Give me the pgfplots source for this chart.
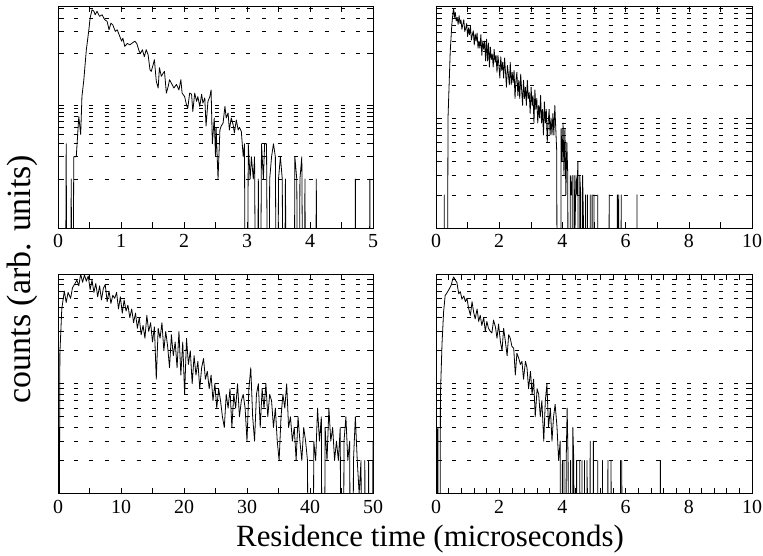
\documentclass[border=0pt]{standalone}
\usepackage{fontspec}
\setmainfont{Liberation Serif}
\usepackage{pgfplots}
\pgfplotsset{compat=1.18}
\tikzset{dl/.style={black, mark=none, line width=0.8bp, line join=round}}
\pgfplotsset{
  mypanel/.style={
    scale only axis, anchor=north west,
    axis line style={line width=0.9bp},
    tick style={line width=0.6bp, black},
    tick align=inside, major tick length=6bp, minor tick length=6bp,
    xtick pos=both, ytick pos=both,
    yticklabels={}, yminorticks=false,
    ymajorgrids, major grid style={dash pattern=on 4bp off 11.7bp, line width=0.6bp, black},
    xticklabel style={font=\fontsize{20}{23}\selectfont, yshift=-3bp},
    /pgf/number format/assume math mode=true,
  }
}
\begin{document}
\begin{tikzpicture}
\useasboundingbox (0,0) rectangle (763bp,-556bp);
% ---------------- panel 1 ----------------
\begin{axis}[ymode=log, mypanel, at={(58bp,-6bp)}, width=315bp, height=222bp,
  xmin=0, xmax=5, ymin=0.218, ymax=218,
  xtick={0,1,2,3,4,5}, minor x tick num=1,
  ytick={1,2,3,4,5,6,7,8,9,10,50,100,150,200}]
\addplot[dl] coordinates {
(0.00,0.0001)(0.11,0.0001)(0.13,3)(0.15,0.0001)(0.19,0.0001)(0.21,1)(0.23,0.0001)
(0.25,2)(0.29,2)(0.33,7)(0.36,4)(0.38,13)(0.41,22)(0.45,56)(0.49,104)(0.51,150)
(0.54,194)(0.57,185)(0.59,166)(0.62,185)(0.66,158)(0.70,166)(0.74,143)(0.78,135)
(0.81,104)(0.84,128)(0.87,121)(0.91,99)(0.94,104)(0.98,85)(1.01,73)(1.03,80)
(1.06,62)(1.10,68)(1.14,65)(1.17,68)(1.22,73)(1.25,68)(1.29,53)(1.31,50)(1.34,56)
(1.37,45)(1.40,56)(1.43,48)(1.46,30)(1.48,28.5)(1.51,35)(1.53,41)(1.56,21)(1.59,17)
(1.61,32)(1.64,24.5)(1.67,27)(1.69,28.5)(1.72,14.5)(1.75,18)(1.77,22)(1.81,19)
(1.84,17)(1.88,19)(1.92,16)(1.95,22)(1.97,14.5)(2.01,13)(2.04,10)(2.06,9.1)
(2.09,14.5)(2.12,14)(2.14,8.2)(2.17,14.5)(2.20,11.2)(2.22,13)(2.25,9.6)(2.28,14)
(2.30,10.6)(2.33,12.5)(2.35,5.2)(2.38,11.2)(2.41,13)(2.43,16)(2.45,3)(2.48,6.7)
(2.50,2)(2.51,5)(2.54,1)(2.57,4.6)(2.59,5.2)(2.62,5.7)(2.65,9.6)(2.67,6.7)(2.70,7.8)
(2.72,4.6)(2.75,6.7)(2.78,5.4)(2.80,4.2)(2.83,6.3)(2.86,4.6)(2.88,5)(2.91,4.4)
(2.94,2)(2.96,3)(2.98,0.0001)(3.00,0.0001)(3.02,3)(3.05,1)(3.07,2)(3.10,1)(3.12,2)
(3.15,0.0001)(3.18,1)(3.20,0.0001)(3.23,3)(3.26,1)(3.28,3)(3.31,3)(3.34,0.0001)
(3.36,1)(3.39,2)(3.42,3)(3.45,2)(3.48,0.0001)(3.50,1)(3.53,2)(3.56,1)(3.58,0.0001)
(3.61,1)(3.64,0.0001)(3.74,0.0001)(3.76,2)(3.79,1)(3.82,0.0001)(3.84,1)(3.87,2)
(3.90,0.0001)(3.92,1)(3.94,0.0001)(4.08,0.0001)(4.10,1)(4.12,0.0001)(4.70,0.0001)
(4.72,1)(4.74,0.0001)(4.93,0.0001)(4.95,1)(4.97,0.0001)(5.00,0.0001)
};
\end{axis}
% ---------------- panel 2 ----------------
\begin{axis}[ymode=log, mypanel, at={(436bp,-6bp)}, width=316bp, height=222bp,
  xmin=0, xmax=10, ymin=1, ymax=104,
  xtick={0,2,4,6,8,10}, minor x tick num=1,
  ytick={2,3,4,5,6,7,8,9,10,20,30,40,50,60,70,80,90,100}]
\addplot[dl] coordinates {
(0.00,0.0001)(0.24,0.0001)(0.26,2)(0.28,0.0001)(0.33,0.0001)(0.38,10)(0.45,40)
(0.50,70)(0.54,92)(0.56,98)(0.58,82)(0.61,91)(0.64,76)(0.67,82)(0.70,71)(0.73,85)
(0.76,72)(0.79,78)(0.82,64)(0.85,71)(0.88,78)(0.91,61)(0.94,65)(0.97,72)(1.00,55)
(1.03,66)(1.06,57)(1.09,68)(1.12,51)(1.15,57)(1.18,62)(1.21,46)(1.24,58)(1.27,50)
(1.30,59)(1.33,43)(1.36,50)(1.39,43)(1.42,57)(1.45,37)(1.48,50)(1.51,42)(1.54,50)
(1.57,33)(1.60,52)(1.63,33)(1.66,48)(1.69,29)(1.72,44)(1.75,34)(1.78,38)(1.81,29)
(1.84,42)(1.87,32)(1.90,37)(1.93,26)(1.96,37)(1.99,30)(2.02,23)(2.05,36)(2.08,27)
(2.11,32)(2.14,23)(2.17,35)(2.20,26)(2.23,19)(2.26,30)(2.29,25)(2.32,20)(2.35,32)
(2.38,20)(2.41,26)(2.44,21)(2.47,27)(2.50,15)(2.53,22)(2.56,26)(2.59,16)(2.62,22)
(2.65,15)(2.68,25)(2.71,18)(2.74,13)(2.77,22)(2.80,15)(2.83,19)(2.86,13)(2.89,22)
(2.92,15)(2.95,17)(2.98,11)(3.01,19)(3.04,13)(3.07,16)(3.10,9)(3.13,18)(3.16,12)
(3.19,15)(3.22,9)(3.25,13)(3.28,10)(3.31,16)(3.34,9)(3.37,12)(3.40,7)(3.43,14)
(3.46,9)(3.49,12)(3.52,6)(3.55,9)(3.58,12)(3.61,7)(3.64,10)(3.67,7)(3.70,11)
(3.73,7)(3.76,13)(3.79,8)(3.82,5)(3.86,0.0001)(3.92,0.0001)(3.96,8)(3.99,4)(4.02,9)
(4.05,3)(4.08,8)(4.11,2)(4.14,6)(4.17,3)(4.20,0.0001)(4.22,0.0001)(4.25,3)(4.28,2)
(4.31,3)(4.34,0.0001)(4.37,3)(4.40,1)(4.43,3)(4.46,2)(4.49,4)(4.52,0.0001)(4.55,3)
(4.58,2)(4.61,0.0001)(4.64,3)(4.67,1)(4.70,0.0001)(4.73,2)(4.76,0.0001)(4.79,2)
(4.82,0.0001)(4.85,0.0001)(4.88,2)(4.91,0.0001)(4.94,2)(4.97,0.0001)(5.00,2)
(5.03,0.0001)(5.10,0.0001)(5.12,2)(5.14,0.0001)(5.46,0.0001)(5.48,2)(5.50,0.0001)
(5.72,0.0001)(5.74,2)(5.76,0.0001)(5.78,2)(5.80,0.0001)(5.84,0.0001)(5.86,2)
(5.88,0.0001)(6.34,0.0001)(6.36,2)(6.38,0.0001)(10.00,0.0001)
};
\end{axis}
% ---------------- panel 3 ----------------
\begin{axis}[ymode=log, mypanel, at={(58bp,-274bp)}, width=315bp, height=219.5bp,
  xmin=0, xmax=50, ymin=1, ymax=100,
  xtick={0,10,20,30,40,50}, minor x tick num=1,
  ytick={2,3,4,5,6,7,8,9,10,20,30,40,50,60,70,80,90,100}]
\addplot[dl] coordinates {
(0.0,0.0001)(0.3,19)(0.6,48)(1.0,70)(1.3,55)(1.6,68)(2.0,60)(2.3,75)(2.6,80)(3.0,88)
(3.3,78)(3.6,100)(3.9,84)(4.2,98)(4.5,86)(4.8,96)(5.1,72)(5.4,88)(5.7,68)(6.0,82)
(6.3,62)(6.6,78)(6.9,58)(7.2,74)(7.5,80)(7.8,56)(8.1,70)(8.4,54)(8.7,64)(9.0,60)
(9.3,68)(9.6,48)(9.9,62)(10.2,44)(10.5,58)(10.8,46)(11.1,52)(11.4,40)(11.7,48)
(12.0,36)(12.3,44)(12.6,32)(12.9,40)(13.2,28)(13.5,34)(13.8,26)(14.1,42)(14.4,30)
(14.7,36)(15.0,24)(15.3,33)(15.6,11)(15.9,32)(16.2,26)(16.5,36)(16.8,20)(17.1,30)
(17.4,22)(17.7,14)(18.0,28)(18.3,18)(18.6,24)(18.9,14)(19.2,30)(19.5,12)(19.8,24)
(20.1,8)(20.4,26)(20.7,15)(21.0,20)(21.3,10)(21.6,18)(21.9,12)(22.2,16)(22.5,9)
(22.8,14)(23.1,17)(23.4,11)(23.7,13)(24.0,9)(24.3,12)(24.6,7)(24.9,10)(25.2,6)
(25.5,9)(25.8,7)(26.1,5)(26.4,4)(26.7,8)(27.0,6)(27.3,9)(27.6,4)(27.9,8)(28.2,6)
(28.5,10)(28.8,5)(29.1,7)(29.4,8)(29.7,6)(30.0,3)(30.3,9)(30.6,14)(30.9,5)(31.2,3)
(31.5,8)(31.8,10)(32.1,4)(32.4,9)(32.7,6)(33.0,10)(33.3,5)(33.6,8)(33.9,7)(34.2,4)
(34.5,6)(34.8,3)(35.1,2)(35.4,5)(35.7,8)(36.0,6)(36.3,10)(36.6,4)(36.9,5)(37.2,3)
(37.5,4)(37.8,2)(38.1,5)(38.4,3)(38.7,2)(39.0,4)(39.3,3)(39.6,2)(40.0,0.0001)
(40.3,0.0001)(40.6,3)(40.9,2)(41.2,6)(41.5,3)(41.8,5)(42.1,0.0001)(42.4,4)(42.7,2)
(43.0,6)(43.3,3)(43.6,4)(43.9,2)(44.2,3)(44.5,2)(44.8,4)(45.1,0.0001)(45.4,3)(45.7,5)
(46.0,2)(46.3,3)(46.6,0.0001)(46.9,2)(47.2,5)(47.5,2)(47.8,1)(48.1,2)(48.4,0.0001)
(48.7,2)(49.0,0.0001)(49.3,2)(49.6,0.0001)(50.0,3)
};
\end{axis}
% ---------------- panel 4 ----------------
\begin{axis}[ymode=log, mypanel, at={(436bp,-274bp)}, width=316bp, height=219.5bp,
  xmin=0, xmax=10, ymin=1, ymax=100,
  xtick={0,2,4,6,8,10}, minor x tick num=4,
  ytick={2,3,4,5,6,7,8,9,10,20,30,40,50,60,70,80,90,100}]
\addplot[dl] coordinates {
(0.00,0.0001)(0.02,4)(0.04,0.0001)(0.06,4)(0.08,0.0001)(0.10,0.0001)(0.14,8)(0.19,23)
(0.24,45)(0.29,64)(0.33,66)(0.38,70)(0.43,74)(0.48,79)(0.53,90)(0.56,94)(0.61,88)
(0.66,84)(0.69,74)(0.72,66)(0.77,69)(0.82,59)(0.88,63)(0.93,56)(0.98,60)(1.03,49)
(1.09,42)(1.14,56)(1.19,45)(1.24,39)(1.30,48)(1.35,37)(1.40,42)(1.45,34)(1.51,40)
(1.56,30)(1.61,37)(1.66,32)(1.72,30)(1.77,29)(1.82,38)(1.88,33)(1.93,26)(1.98,35)
(2.04,24)(2.09,20)(2.14,32)(2.19,25)(2.25,18)(2.30,28)(2.35,26)(2.40,22)(2.46,21)
(2.51,12)(2.56,19)(2.62,17)(2.67,15)(2.72,16)(2.77,11)(2.83,16)(2.88,14)(2.93,9)
(2.99,13)(3.04,8)(3.09,11)(3.14,5)(3.20,9)(3.25,8)(3.30,5)(3.35,7)(3.41,3)(3.46,7)
(3.51,10)(3.56,4)(3.62,6)(3.67,3)(3.72,5)(3.77,6.5)(3.83,4)(3.88,2)(3.93,3)
(3.97,0.0001)(4.00,2)(4.02,0.0001)(4.05,2)(4.08,0.0001)(4.12,2)(4.15,6)(4.18,2)
(4.22,0.0001)(4.26,2)(4.30,0.0001)(4.33,4)(4.36,2)(4.40,0.0001)(4.45,2)(4.50,0.0001)
(4.55,2)(4.58,0.0001)(4.62,2)(4.66,0.0001)(4.70,2)(4.73,0.0001)(4.78,2)(4.82,0.0001)
(4.88,3)(4.92,0.0001)(4.98,3)(5.02,0.0001)(5.10,0.0001)(5.12,2)(5.14,0.0001)
(5.25,0.0001)(5.27,2)(5.29,0.0001)(5.42,0.0001)(5.44,2)(5.46,0.0001)(5.52,0.0001)
(5.54,2)(5.56,0.0001)(5.82,0.0001)(5.84,2)(5.86,0.0001)(5.88,2)(5.90,0.0001)
(7.08,0.0001)(7.10,2)(7.12,0.0001)(10.00,0.0001)
};
\end{axis}
\node[anchor=base, font=\fontsize{31}{36}\selectfont] at (430bp,-546bp) {Residence time (microseconds)};
\node[anchor=base, rotate=90, font=\fontsize{34}{38}\selectfont] at (30bp,-279bp) {counts (arb. units)};
\end{tikzpicture}
\end{document}
